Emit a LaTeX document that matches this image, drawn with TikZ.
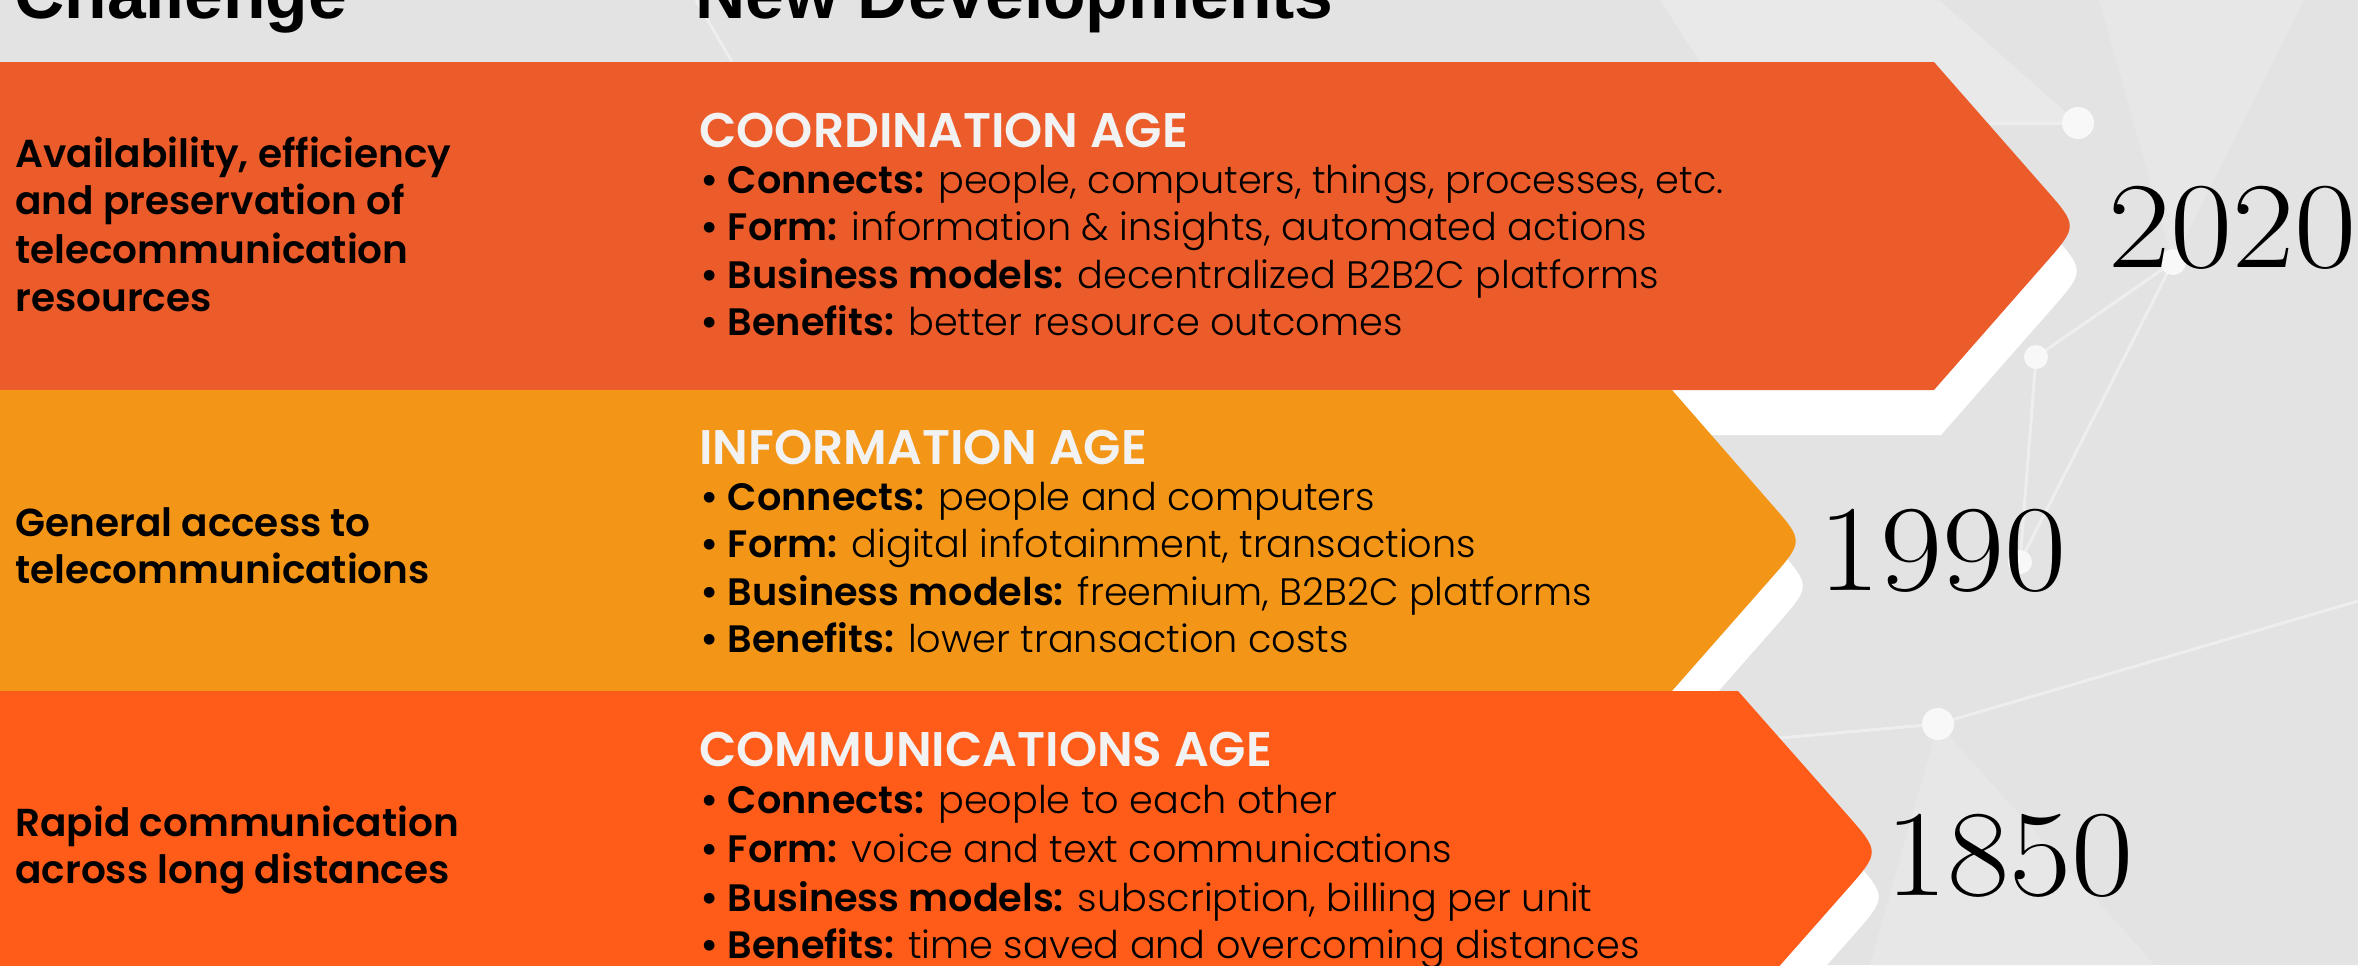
\documentclass[tikz,border=0pt]{standalone}
\usepackage{fontspec}
\newfontfamily\hdfont{Liberation Sans}
\IfFontExistsTF{Poppins SemiBold}{\newfontfamily\popsb{Poppins SemiBold}}{\newfontfamily\popsb{Poppins}[FakeBold=1.5]}
\IfFontExistsTF{Poppins Light}{\newfontfamily\poplt{Poppins Light}}{\newfontfamily\poplt{Poppins}}
\definecolor{bgc}{HTML}{E3E3E3}
\definecolor{facet}{HTML}{E9E9E9}
\definecolor{netc}{HTML}{EEEEEE}
\definecolor{dotc}{HTML}{F8F8F8}
\definecolor{coordc}{HTML}{EC5C2B}
\definecolor{infoc}{HTML}{F39618}
\definecolor{commc}{HTML}{FF5C1A}
\definecolor{headc}{HTML}{F2F2F2}
\tikzset{
  hdr/.style={anchor=base west,inner sep=0pt,font=\hdfont\bfseries\fontsize{34.8}{40}\selectfont},
  lefttxt/.style={anchor=base west,inner sep=0pt,font=\popsb\fontsize{19.5}{24}\selectfont},
  agehead/.style={anchor=base west,inner sep=0pt,text=headc,font=\popsb\fontsize{24.3}{28}\selectfont},
  bul/.style={anchor=base west,inner sep=0pt,font=\poplt\fontsize{19.1}{24}\selectfont},
  yr/.style={anchor=base west,inner sep=0pt,font=\rmfamily\fontsize{61.5}{70}\selectfont},
  shadowfill/.style={fill=white},
  netline/.style={draw=netc,line width=1.5pt},
  netdot/.style={fill=dotc},
}
\newcommand{\lb}[1]{{\popsb #1}}
\newcommand{\yrtext}[1]{\scalebox{1.1}[1]{#1}}
\begin{document}
\begin{tikzpicture}[x=0.5pt,y=-0.5pt]
\useasboundingbox (0,0) rectangle (2358,965);
\clip (0,0) rectangle (2358,965);
% background
\fill[bgc] (0,0) rectangle (2358,965);
\fill[facet] (1660,0) -- (1939,0) -- (2078,123) -- (1980,123) -- (1934,62) -- (1700,62) -- cycle;
\fill[facet!60!bgc] (2099,0) -- (2304,0) -- (2173,262) -- cycle;
\fill[facet!70!bgc] (1938,724) -- (2155,965) -- (1870,965) -- cycle;
\draw[netline] (696,0) -- (732,62);
\draw[netline] (2078,123) -- (1990,123);
\draw[netline] (2173,262) -- (2036,357);
\draw[netline] (2173,262) -- (2020,562);
\draw[netline] (2036,357) -- (2020,562);
\draw[netline] (1938,724) -- (2358,601);
\draw[netline] (1938,724) -- (1700,745);
\fill[netdot] (2078,123) circle (16);
\fill[netdot] (2036,357) circle (12);
\fill[netdot] (2173,262) circle (13);
\fill[netdot] (2020,562) circle (12);
\fill[netdot] (1938,724) circle (16);
% arrows with shadows
\fill[shadowfill,shift={(7,45)}] (0,62) -- (1934,62) -- (2045,188.5) .. controls (2078,226) .. (2045,263.5) -- (1934,390) -- (0,390) -- cycle;
\fill[coordc] (0,62) -- (1934,62) -- (2045,188.5) .. controls (2078,226) .. (2045,263.5) -- (1934,390) -- (0,390) -- cycle;
\fill[shadowfill,shift={(7,45)}] (0,390) -- (1672,390) -- (1771,503.5) .. controls (1804,541) .. (1771,578.5) -- (1672,691) -- (0,691) -- cycle;
\fill[infoc] (0,390) -- (1672,390) -- (1771,503.5) .. controls (1804,541) .. (1771,578.5) -- (1672,691) -- (0,691) -- cycle;
\fill[shadowfill,shift={(7,45)}] (0,691) -- (1738,691) -- (1847,814.5) .. controls (1880,852) .. (1847,889.5) -- (1738,1013) -- (0,1013) -- cycle;
\fill[commc] (0,691) -- (1738,691) -- (1847,814.5) .. controls (1880,852) .. (1847,889.5) -- (1738,1013) -- (0,1013) -- cycle;
% headers
\node[hdr] (hchal) at (14,18) {Challenge};
\node[hdr] (hnew) at (695,18) {New Developments};
% challenges
\node[lefttxt] (c1a) at (15,167) {Availability, efficiency};
\node[lefttxt] (c1b) at (15,214) {and preservation of};
\node[lefttxt] (c1c) at (15,263) {telecommunication};
\node[lefttxt] (c1d) at (15,311) {resources};
\node[lefttxt] (c2a) at (15,536) {General access to};
\node[lefttxt] (c2b) at (15,583) {telecommunications};
\node[lefttxt] (c3a) at (15,836) {Rapid communication};
\node[lefttxt] (c3b) at (15,883) {across long distances};
% coordination age
\node[agehead] (h1) at (699,147) {COORDINATION AGE};
\node[bul] (b1a) at (700,193) {\lb{• Connects:} people, computers, things, processes, etc.};
\node[bul] (b1b) at (700,240) {\lb{• Form:} information \& insights, automated actions};
\node[bul] (b1c) at (700,288) {\lb{• Business models:} decentralized B2B2C platforms};
\node[bul] (b1d) at (700,335) {\lb{• Benefits:} better resource outcomes};
% information age
\node[agehead] (h2) at (699,464) {INFORMATION AGE};
\node[bul] (b2a) at (700,510) {\lb{• Connects:} people and computers};
\node[bul] (b2b) at (700,557) {\lb{• Form:} digital infotainment, transactions};
\node[bul] (b2c) at (700,605) {\lb{• Business models:} freemium, B2B2C platforms};
\node[bul] (b2d) at (700,652) {\lb{• Benefits:} lower transaction costs};
% communications age
\node[agehead] (h3) at (699,766) {COMMUNICATIONS AGE};
\node[bul] (b3a) at (700,813) {\lb{• Connects:} people to each other};
\node[bul] (b3b) at (700,862) {\lb{• Form:} voice and text communications};
\node[bul] (b3c) at (700,911) {\lb{• Business models:} subscription, billing per unit};
\node[bul] (b3d) at (700,958) {\lb{• Benefits:} time saved and overcoming distances};
% years
\node[yr] (y2020) at (2108,267) {\yrtext{2020}};
\node[yr] (y1990) at (1818,590) {\yrtext{1990}};
\node[yr] (y1850) at (1885,895) {\yrtext{1850}};
\end{tikzpicture}
\end{document}
